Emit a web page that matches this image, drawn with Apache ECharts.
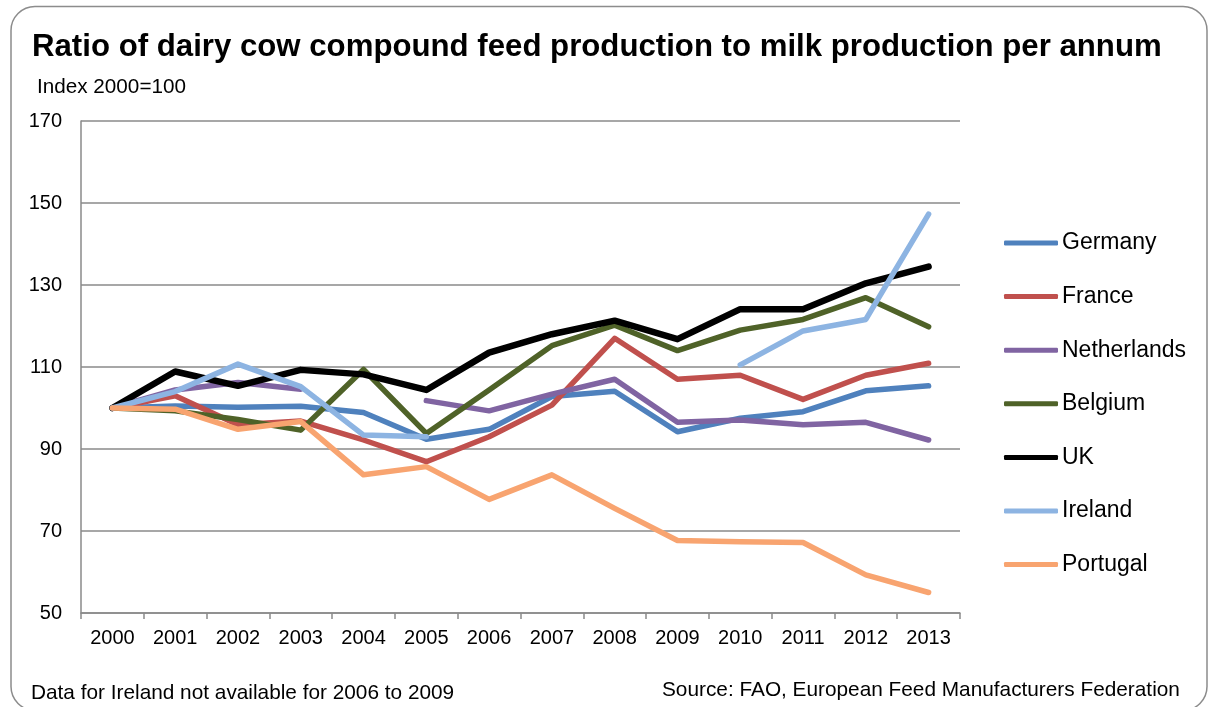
<!DOCTYPE html>
<html>
<head>
<meta charset="utf-8">
<script src="https://cdn.jsdelivr.net/npm/echarts@6/dist/echarts.min.js"></script>
<style>
html,body{margin:0;padding:0;background:#fff;}
#chart{width:1208px;height:707px;}
</style>
</head>
<body>
<div id="chart"></div>
<script>
const years = ['2000','2001','2002','2003','2004','2005','2006','2007','2008','2009','2010','2011','2012','2013'];
const yTicks = [50, 70, 90, 110, 130, 150, 170];

const germany     = [100, 100.5, 100.2, 100.4, 98.9, 92.4, 94.8, 102.8, 104.1, 94.2, 97.5, 99.1, 104.2, 105.4];
const france      = [100, 103.0, 95.9, 96.8, 92.2, 86.9, 93.0, 100.7, 117.0, 107.0, 108.0, 102.1, 108.0, 110.9];
const netherlands = [100, 104.4, 106.2, 104.6, null, 101.8, 99.3, 103.4, 107.0, 96.5, 97.1, 95.9, 96.5, 92.2];
const belgium     = [100, 99.3, 97.2, 94.6, 109.4, 93.8, 104.4, 115.2, 120.2, 114.0, 119.0, 121.6, 126.9, 119.8];
const uk          = [100, 108.9, 105.4, 109.3, 108.2, 104.4, 113.5, 118.0, 121.3, 116.8, 124.1, 124.1, 130.4, 134.5];
const ireland     = [100, 104.0, 110.7, 105.2, 93.4, 93.0, null, null, null, null, 110.5, 118.8, 121.6, 147.3];
const portugal    = [100, 99.7, 94.8, 96.7, 83.7, 85.7, 77.7, 83.7, 75.5, 67.7, 67.4, 67.2, 59.3, 55.0];

const seriesNames = ['Germany','France','Netherlands','Belgium','UK','Ireland','Portugal'];
const seriesData = [germany, france, netherlands, belgium, uk, ireland, portugal];
const seriesColors = ['#4F81BD','#C0504D','#8064A2','#4F6228','#000000','#8DB4E2','#F8A470'];
const seriesWidths = [5.5, 5.5, 5.5, 5.5, 6.5, 5.5, 5.5];

const FONT = '"Liberation Sans", Arial, sans-serif';
const chart = echarts.init(document.getElementById('chart'), null, {renderer:'canvas'});

const option = {
  backgroundColor: '#ffffff',
  animation: false,
  textStyle: {fontFamily: FONT, color: '#000'},
  title: {
    text: 'Ratio of dairy cow compound feed production to milk production per annum',
    left: 32, top: 32, padding: 0,
    textStyle: {fontFamily: FONT, fontSize: 31.2, fontWeight: 'bold', color: '#000'}
  },
  legend: {
    orient: 'vertical',
    left: 1004, top: 231.5, padding: 0,
    icon: 'roundRect',
    itemWidth: 54, itemHeight: 5, itemGap: 30.6,
    textStyle: {fontFamily: FONT, fontSize: 23, color: '#000', padding: [0, 0, 0, -1]},
    data: seriesNames
  },
  grid: {left: 81, top: 121, right: 248, bottom: 94, containLabel: false},
  xAxis: {
    type: 'category',
    data: years,
    boundaryGap: true,
    axisLine: {lineStyle: {color: '#8a8a8a', width: 1.5}},
    axisTick: {show: true, length: 6, lineStyle: {color: '#8a8a8a', width: 1.5}},
    axisLabel: {fontFamily: FONT, fontSize: 20, color: '#000', margin: 15}
  },
  yAxis: {
    type: 'value',
    min: yTicks[0], max: yTicks[yTicks.length-1], interval: 20,
    axisLine: {show: true, lineStyle: {color: '#8a8a8a', width: 1.5}},
    axisTick: {show: false},
    splitLine: {lineStyle: {color: '#8a8a8a', width: 1.5}},
    axisLabel: {fontFamily: FONT, fontSize: 20, color: '#000', margin: 19}
  },
  series: seriesNames.map((n, i) => ({
    name: n,
    type: 'line',
    data: seriesData[i],
    symbol: 'none',
    connectNulls: false,
    color: seriesColors[i],
    lineStyle: {color: seriesColors[i], width: seriesWidths[i], cap: 'round', join: 'round'}
  })),
  graphic: [
    {type: 'rect', shape: {x: 11, y: 6.5, width: 1196, height: 704, r: 24},
     style: {fill: 'none', stroke: '#8c8c8c', lineWidth: 1.5}, silent: true},
    {type: 'text', left: 37, top: 77,
     style: {text: 'Index 2000=100', font: '20.7px ' + FONT, fill: '#000'}},
    {type: 'text', left: 31, top: 683,
     style: {text: 'Data for Ireland not available for 2006 to 2009', font: '20.8px ' + FONT, fill: '#000'}},
    {type: 'text', left: 662, top: 680,
     style: {text: 'Source: FAO, European Feed Manufacturers Federation', font: '20.8px ' + FONT, fill: '#000'}}
  ]
};
chart.setOption(option);
</script>
</body>
</html>
